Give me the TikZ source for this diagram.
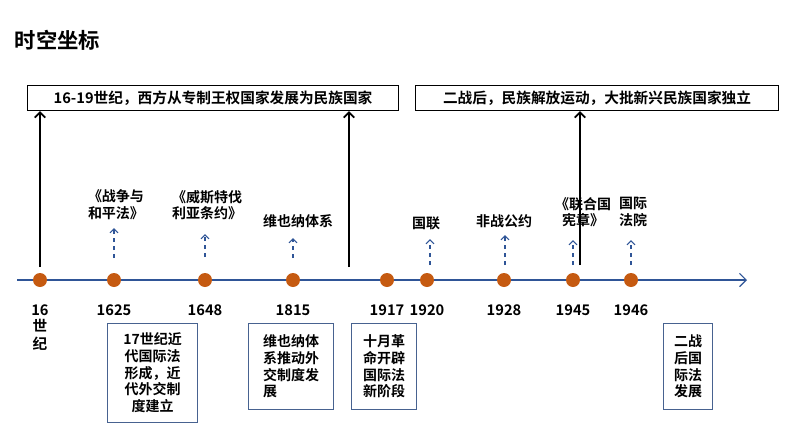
\documentclass[tikz,border=0pt]{standalone}
\usepackage{fontspec}
\setmainfont{Noto Sans CJK SC}[BoldFont={Noto Sans CJK SC Bold}]
\usetikzlibrary{arrows.meta}
\definecolor{ax}{HTML}{2F5597}
\definecolor{dot}{HTML}{C55A11}
\begin{document}
\begin{tikzpicture}[x=0.75pt,y=-0.75pt,
 t/.style={font=\bfseries\fontsize{10.5}{12.5}\selectfont,align=center,inner sep=1pt},
 dotn/.style={circle,fill=dot,minimum size=10.5pt,inner sep=0pt},
 dasharr/.style={ax,dashed,thick,-{Straight Barb[length=3pt]}},
 blk/.style={black,line width=1.3pt,-{Straight Barb[length=4pt]}},
 bx/.style={draw=ax!70!gray,thick,t,align=left,anchor=north west,inner sep=3pt}]
\useasboundingbox (0,0) rectangle (794,447);
\node[anchor=west,font=\bfseries\fontsize{16}{18}\selectfont] (title) at (10,40) {时空坐标};
\draw[draw=ax,thick,-{Straight Barb[length=5pt]}] (17,280) coordinate(a0) -- (747,280) coordinate(a1);
\node[draw,thick,minimum width=278.25pt,minimum height=18.75pt,anchor=north west,t,font=\bfseries\fontsize{11}{13}\selectfont] (b1) at (27,85) {16-19世纪，西方从专制王权国家发展为民族国家};
\node[draw,thick,minimum width=272.25pt,minimum height=18.75pt,anchor=north west,t,font=\bfseries\fontsize{11}{13}\selectfont] (b2) at (415,85) {二战后，民族解放运动，大批新兴民族国家独立};
\foreach \n/\x/\y in {d16/40/16,d1625/114/1625,d1648/205/1648,d1815/293/1815,d1917/387/1917,d1920/427/1920,d1928/504/1928,d1945/573/1945,d1946/631/1946}{
 \node[dotn] (\n) at (\x,280) {};
 \node[t,font=\bfseries\fontsize{11}{13}\selectfont] (y\n) at (\x,310) {\y};
}
\node[t,font=\bfseries\fontsize{11}{13}\selectfont,anchor=north] (sj) at (40,318) {世\\纪};
\coordinate (c16) at (40,267); \draw[blk] (c16) -- (c16 |- b1.south);
\coordinate (c1) at (349,267); \draw[blk] (c1) -- (c1 |- b1.south);
\coordinate (c2) at (580,265); \draw[blk] (c2) -- (c2 |- b2.south);
\node[t] (l1) at (116,205) {《战争与\\和平法》};
\node[t] (l2) at (207,205) {《威斯特伐\\利亚条约》};
\node[t] (l3) at (298,221) {维也纳体系};
\node[t] (l4) at (426,223) {国联};
\node[t] (l5) at (504,221) {非战公约};
\node[t] (l6) at (583,212) {《联合国\\宪章》};
\node[t] (l7) at (633,212) {国际\\法院};
\draw[dasharr] (114,258) -- (114,228);
\draw[dasharr] (205,257) -- (205,234);
\draw[dasharr] (293,258) -- (293,238);
\draw[dasharr] (430,265) -- (430,239);
\draw[dasharr] (505,265) -- (505,235);
\draw[dasharr] (573,265) -- (573,240);
\draw[dasharr] (631,265) -- (631,240);
\node[bx,minimum width=67.5pt,minimum height=74pt,align=center] (k1) at (107,323) {17世纪近\\代国际法\\形成，近\\代外交制\\度建立};
\node[bx,minimum width=64pt,minimum height=64.5pt] (k2) at (248,323) {维也纳体\\系推动外\\交制度发\\展};
\node[bx,minimum width=49pt,minimum height=64.5pt] (k3) at (351,323) {十月革\\命开辟\\国际法\\新阶段};
\node[bx,minimum width=36.75pt,minimum height=64.5pt] (k4) at (663,323) {二战\\后国\\际法\\发展};
\end{tikzpicture}
\end{document}
